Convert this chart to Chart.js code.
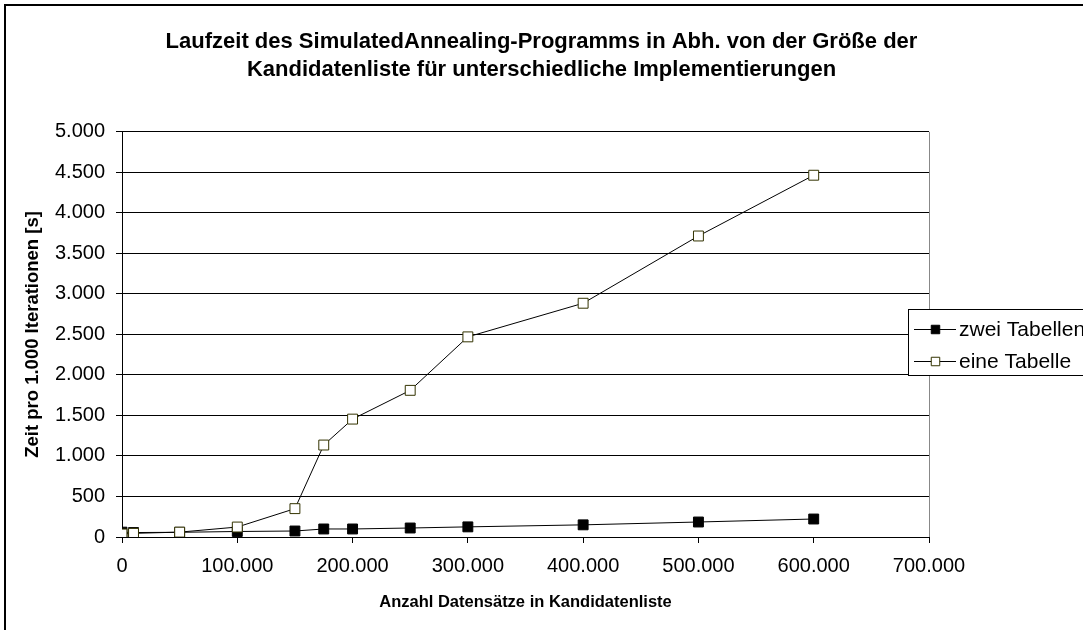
<!DOCTYPE html>
<html lang="de">
<head>
  <meta charset="UTF-8">
  <title>Laufzeit SimulatedAnnealing</title>
  <script src="https://cdn.jsdelivr.net/npm/chart.js"></script>
  <style>
    body { margin: 0; background: #fff; }
    canvas { display: block; }
  </style>
</head>
<body>
<canvas id="grafica" width="1083" height="630"></canvas>
<script>
// Daten
const titel = [
  'Laufzeit des SimulatedAnnealing-Programms in Abh. von der Größe der',
  'Kandidatenliste für unterschiedliche Implementierungen'
];
const datensaetze = [0, 10000, 50000, 100000, 150000, 175000, 200000, 250000, 300000, 400000, 500000, 600000];
const zweiTabellen = [60, 55, 58, 68, 74, 99, 99, 111, 125, 150, 185, 222];
const eineTabelle = [37, 45, 60, 123, 350, 1135, 1455, 1810, 2470, 2885, 3715, 4465];
const serienNamen = ['zwei Tabellen', 'eine Tabelle'];

const schrift = "'Liberation Sans', Arial, sans-serif";
Chart.defaults.font.family = schrift;
Chart.defaults.color = '#000';

function punkte(werte) {
  return datensaetze.map((x, i) => ({ x: x, y: werte[i] }));
}
function deZahl(v) {
  return String(v).replace(/\B(?=(\d{3})+(?!\d))/g, '.');
}

// Rahmen, rechter Rand der Zeichenfläche und Legende (rechts abgeschnitten wie im Original)
const rahmen = {
  id: 'rahmen',
  beforeDraw(chart) {
    const c = chart.ctx;
    c.save();
    c.fillStyle = '#fff';
    c.fillRect(0, 0, chart.width, chart.height);
    c.strokeStyle = '#000';
    c.lineWidth = 2;
    c.strokeRect(5, 5, chart.width + 20, chart.height + 20);
    c.restore();
  },
  beforeDatasetsDraw(chart) {
    const a = chart.chartArea;
    const c = chart.ctx;
    c.save();
    c.strokeStyle = '#888';
    c.lineWidth = 1;
    c.beginPath();
    c.moveTo(Math.round(a.right) + 0.5, a.top);
    c.lineTo(Math.round(a.right) + 0.5, a.bottom);
    c.stroke();
    c.restore();
  },
  afterDraw(chart) {
    const c = chart.ctx;
    const lx = 908, ly = 309;
    c.save();
    c.fillStyle = '#fff';
    c.strokeStyle = '#000';
    c.lineWidth = 1;
    c.fillRect(lx, ly, 200, 66);
    c.strokeRect(lx + 0.5, ly + 0.5, 200, 66);
    const zeilen = [329, 361];
    serienNamen.forEach((name, i) => {
      const ds = chart.data.datasets.find(d => d.label === name);
      const y = zeilen[i];
      c.strokeStyle = '#000';
      c.beginPath();
      c.moveTo(914, y + 0.5);
      c.lineTo(956, y + 0.5);
      c.stroke();
      c.fillStyle = ds.pointBackgroundColor;
      c.strokeStyle = ds.pointBorderColor;
      Chart.helpers.drawPoint(c, { pointStyle: 'rect', radius: 6, rotation: 0, borderWidth: 1 }, 935.5, y + 0.5);
      c.fillStyle = '#000';
      c.font = '21px ' + schrift;
      c.textBaseline = 'middle';
      c.textAlign = 'left';
      c.fillText(name, 959, y + 1);
    });
    c.restore();
  }
};

const ctx = document.getElementById('grafica').getContext('2d');
new Chart(ctx, {
  type: 'scatter',
  data: {
    datasets: [
      {
        label: serienNamen[0],
        data: punkte(zweiTabellen),
        showLine: true,
        borderColor: '#000',
        borderWidth: 1,
        pointStyle: 'rect',
        pointRadius: 7,
        pointBackgroundColor: '#000',
        pointBorderColor: '#000',
        pointBorderWidth: 1,
        order: 1
      },
      {
        label: serienNamen[1],
        data: punkte(eineTabelle),
        showLine: true,
        borderColor: '#000',
        borderWidth: 1,
        pointStyle: 'rect',
        pointRadius: 7,
        pointBackgroundColor: '#fff',
        pointBorderColor: '#333300',
        pointBorderWidth: 1,
        order: 0
      }
    ]
  },
  options: {
    responsive: false,
    animation: false,
    layout: { padding: 0 },
    plugins: {
      legend: { display: false },
      tooltip: { enabled: false },
      title: {
        display: true,
        text: titel,
        color: '#000',
        font: { size: 22, weight: 'bold', lineHeight: 1.27 },
        padding: { top: 28, bottom: 48 }
      }
    },
    scales: {
      x: {
        type: 'linear',
        min: 0,
        max: 700000,
        afterFit(s) { s.height = 93; },
        ticks: { stepSize: 100000, callback: deZahl, font: { size: 20 }, padding: 11, maxRotation: 0 },
        grid: { drawOnChartArea: false, drawTicks: true, tickLength: 6, color: '#000' },
        border: { color: '#000', width: 1 },
        title: {
          display: true,
          text: 'Anzahl Datensätze in Kandidatenliste',
          font: { size: 16.5, weight: 'bold' },
          padding: { top: 0, bottom: 18 }
        }
      },
      y: {
        min: 0,
        max: 5000,
        afterFit(s) { s.width = 122; },
        ticks: { stepSize: 500, callback: deZahl, font: { size: 20 }, padding: 11 },
        grid: { color: '#000', tickLength: 6, drawTicks: true },
        border: { color: '#000', width: 1 },
        title: {
          display: true,
          text: 'Zeit pro 1.000 Iterationen [s]',
          font: { size: 18.5, weight: 'bold' },
          padding: { top: 22, bottom: 0 }
        }
      },
      // leerer Platz rechts für die Legende
      rechts: {
        position: 'right',
        afterFit(s) { s.width = 154; },
        ticks: { display: false },
        grid: { display: false },
        border: { display: false }
      }
    }
  },
  plugins: [rahmen]
});
</script>
</body>
</html>
